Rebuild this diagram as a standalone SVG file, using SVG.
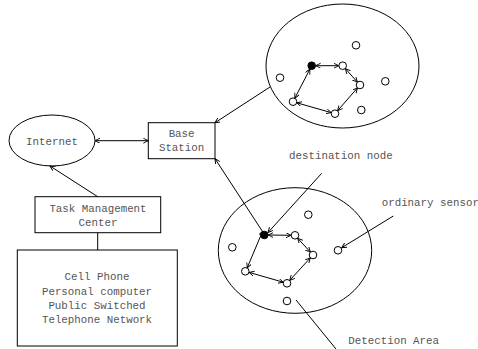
<svg xmlns="http://www.w3.org/2000/svg" width="478" height="349" viewBox="0 0 478 349">
<style>
.s{fill:none;stroke:#000;stroke-width:1}
.n{fill:#fff;stroke:#000;stroke-width:1}
.f{fill:#000;stroke:#000;stroke-width:1}
.t{font-family:"Liberation Mono",monospace;font-size:10.8px;fill:#555;text-anchor:middle}
.l{font-family:"Liberation Mono",monospace;font-size:10.8px;fill:#555}
.c{fill:none;stroke:#000;stroke-width:1}
.a{marker-end:url(#ah)}
.b{marker-start:url(#ah);marker-end:url(#ah)}
</style>
<defs>
<marker id="ah" markerUnits="userSpaceOnUse" markerWidth="8" markerHeight="8" refX="5" refY="2.5" orient="auto-start-reverse">
<path d="M0,0 L5,2.5 L0,5" fill="none" stroke="#000" stroke-width="0.9"/>
</marker>
</defs>
<rect width="478" height="349" fill="#fff"/>

<g id="internet">
<ellipse class="s" cx="52" cy="140.5" rx="43" ry="25.5"/>
<text class="t" x="52" y="144.5">Internet</text>
</g>
<g id="base-station">
<rect class="s" x="148.3" y="122.7" width="66.7" height="36"/>
<text class="t" x="181.6" y="137">Base</text>
<text class="t" x="181.6" y="150.5">Station</text>
</g>
<g id="task-management-center">
<rect class="s" x="35" y="196.7" width="125.7" height="36"/>
<text class="t" x="98" y="212">Task Management</text>
<text class="t" x="98" y="226">Center</text>
</g>
<g id="devices">
<rect class="s" x="17.3" y="250" width="160" height="96"/>
<text class="t" x="97" y="279.5">Cell Phone</text>
<text class="t" x="97" y="295">Personal computer</text>
<text class="t" x="97" y="309">Public Switched</text>
<text class="t" x="97" y="323">Telephone Network</text>
</g>

<g id="sensor-area-top">
<ellipse class="s" cx="342.5" cy="66" rx="76.5" ry="62"/>
<circle class="f" cx="311.7" cy="65.7" r="3.8"/>
<circle class="n" cx="342.7" cy="65.7" r="3.8"/>
<circle class="n" cx="360" cy="85" r="3.8"/>
<circle class="n" cx="335" cy="113.7" r="3.8"/>
<circle class="n" cx="293" cy="101.7" r="3.8"/>
<circle class="n" cx="356" cy="45.3" r="3.8"/>
<circle class="n" cx="280" cy="77.7" r="3.8"/>
<circle class="n" cx="385.3" cy="81.3" r="3.8"/>
<circle class="n" cx="361.3" cy="110" r="3.8"/>
</g>
<g id="sensor-area-bottom">
<ellipse class="s" cx="295" cy="250.5" rx="76.7" ry="62.8"/>
<circle class="f" cx="264.3" cy="235" r="3.8"/>
<circle class="n" cx="295" cy="235.3" r="3.8"/>
<circle class="n" cx="313" cy="255" r="3.8"/>
<circle class="n" cx="287" cy="283.3" r="3.8"/>
<circle class="n" cx="245.3" cy="271.3" r="3.8"/>
<circle class="n" cx="308.3" cy="214.7" r="3.8"/>
<circle class="n" cx="232.3" cy="247.3" r="3.8"/>
<circle class="n" cx="338" cy="250.3" r="3.8"/>
<circle class="n" cx="287" cy="301" r="3.8"/>
</g>

<g id="labels">
<text class="l" x="289" y="158.5">destination node</text>
<text class="l" x="381.7" y="205.5">ordinary sensor</text>
<text class="l" x="348.3" y="343.5">Detection Area</text>
</g>

<g id="connectors">
<line class="c b" x1="95" y1="140.7" x2="148.3" y2="140.7"/>
<line class="c a" x1="97.7" y1="196.7" x2="50" y2="166"/>
<line class="c" x1="97.7" y1="232.7" x2="97.7" y2="250"/>
<line class="c a" x1="270" y1="87" x2="215" y2="122.7"/>
<line class="c a" x1="262.5" y1="231.5" x2="215" y2="158.7"/>
<line class="c a" x1="321.7" y1="173.3" x2="268" y2="232.5"/>
<line class="c a" x1="393.3" y1="216" x2="341.7" y2="247.7"/>
<line class="c" x1="296" y1="300" x2="336" y2="349"/>

<line class="c b" x1="315.7" y1="65.7" x2="338.7" y2="65.7"/>
<line class="c b" x1="345.4" y1="68.7" x2="357.3" y2="82"/>
<line class="c b" x1="357.4" y1="88" x2="337.6" y2="110.7"/>
<line class="c b" x1="331.2" y1="112.6" x2="296.8" y2="102.8"/>
<line class="c b" x1="294.8" y1="98.2" x2="309.9" y2="69.2"/>

<line class="c b" x1="268.3" y1="235" x2="291" y2="235.3"/>
<line class="c b" x1="297.7" y1="238.3" x2="310.3" y2="252"/>
<line class="c b" x1="310.3" y1="257.9" x2="289.7" y2="280.4"/>
<line class="c b" x1="283.2" y1="282.2" x2="249.1" y2="272.4"/>
<line class="c b" x1="247.2" y1="267.8" x2="262.5" y2="231.5"/>
</g>
</svg>
